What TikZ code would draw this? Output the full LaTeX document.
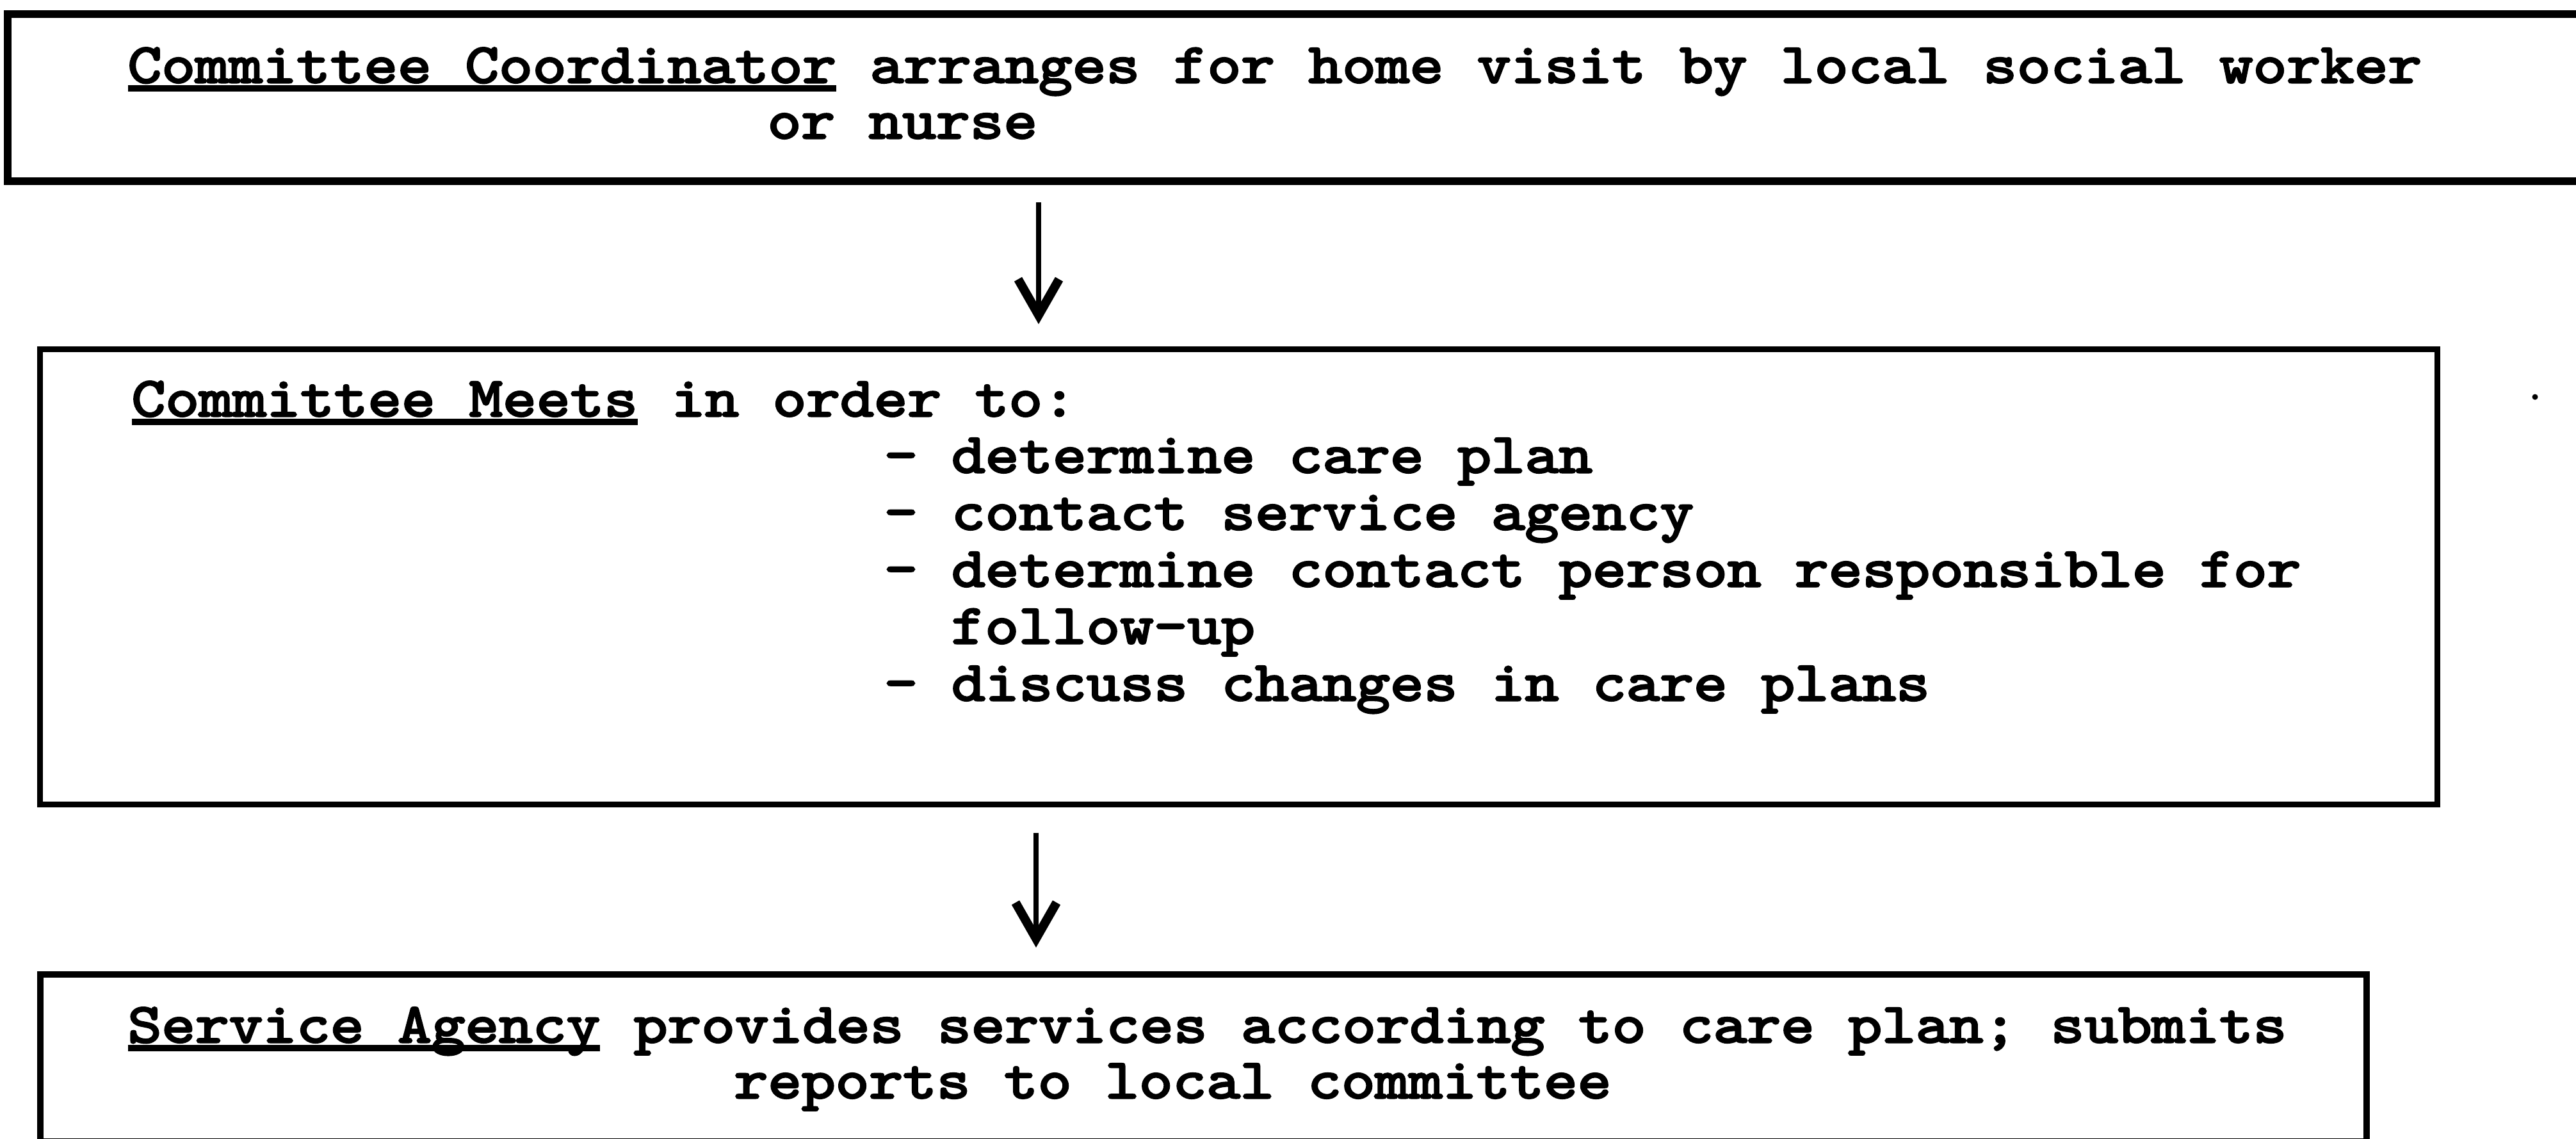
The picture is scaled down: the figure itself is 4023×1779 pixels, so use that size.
\documentclass[tikz,border=0pt]{standalone}
\usepackage{fontspec}
\usetikzlibrary{arrows.meta,calc}
% printer-style monospaced face: Latin Modern Mono, widened and thickened
\newfontfamily\typer{lmmono10-regular.otf}[FakeStretch=1.146,FakeBold=3.5]
% underline that runs under the whole phrase, spaces included
\newcommand\ulx[1]{\setbox0\hbox{#1}\rlap{\rule[-0.16em]{\wd0}{0.11em}}\box0}
\begin{document}
\begin{tikzpicture}[x=0.01cm,y=-0.01cm,
  frame/.style={draw, rectangle, inner sep=0pt, line width=0.1cm},
  txt/.style={anchor=base west, inner sep=0pt, font=\typer\fontsize{24.9pt}{30pt}\selectfont},
  flow/.style={line width=0.08cm,
    -{Straight Barb[length=0.56cm, width=0.64cm, line width=0.14cm]}}]
\useasboundingbox (0,0) rectangle (4023,1779);
\clip (0,0) rectangle (4023,1779);
\fill[white] (0,0) rectangle (4023,1779);

% boxes (the first runs past the right edge, the last past the bottom)
\node[frame, line width=0.12cm, minimum width=40.87cm, minimum height=2.61cm] (b1) at (2056.5,152.5) {};
\node[frame, line width=0.09cm, minimum width=37.41cm, minimum height=7.10cm] (b2) at (1934.5,901) {};
\node[frame, line width=0.1cm, minimum width=36.31cm, minimum height=2.61cm] (b3) at (1879.5,1652.5) {};

% first box
\node[txt] (t11) at (199,129) {\ulx{Committee Coordinator}\ arranges for home visit by local social worker};
\node[txt] (t12) at (1198,216) {or nurse};

% second box
\node[txt] (t21) at (205,650) {\ulx{Committee Meets}\ in order to:};
\node[txt] (t22) at (1380,738) {- determine care plan};
\node[txt] (t23) at (1380,827) {- contact service agency};
\node[txt] (t24) at (1380,916) {- determine contact person responsible for};
\node[txt] (t25) at (1485,1005) {follow-up};
\node[txt] (t26) at (1380,1094) {- discuss changes in care plans};

% third box
\node[txt] (t31) at (199,1628) {\ulx{Service Agency}\ provides services according to care plan; submits};
\node[txt] (t32) at (1146,1715) {reports to local committee};

% connectors
\coordinate (ax1) at (1622,400);
\coordinate (ax2) at (1618,1390);
\draw[flow, shorten <=0.27cm, shorten >=0.35cm] (b1.south -| ax1) -- (b2.north -| ax1);
\draw[flow, shorten <=0.40cm, shorten >=0.37cm] (b2.south -| ax2) -- (b3.north -| ax2);

% stray speck beside the second box
\fill (3959,620) circle[radius=0.045cm];
\end{tikzpicture}
\end{document}
